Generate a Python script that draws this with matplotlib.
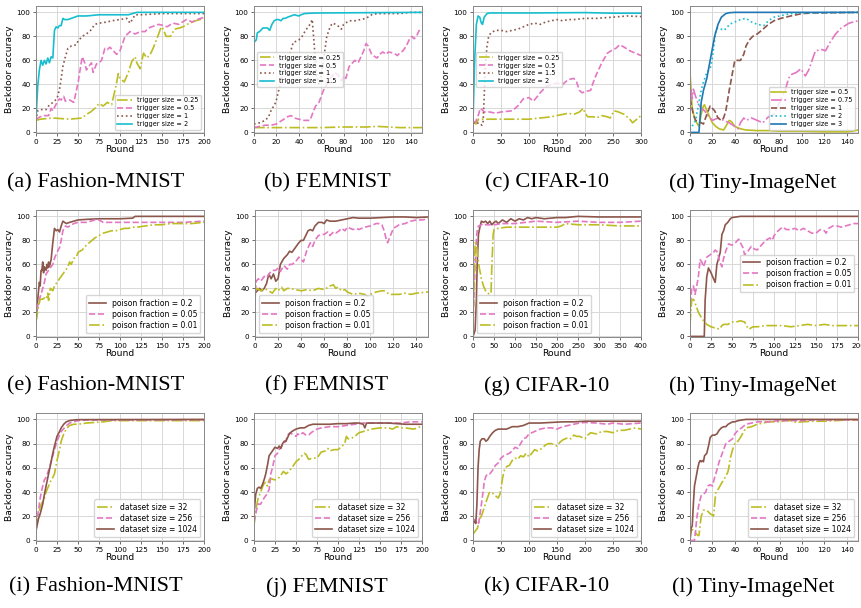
import matplotlib
matplotlib.use("Agg")
import matplotlib.pyplot as plt

W, H = 862, 608

OLIVE, PINK, BROWN, CYAN, BLUE = '#bcbd22', '#e377c2', '#8c564b', '#17becf', '#1f77b4'

# ---------------- row 1: trigger size ----------------
# (a) Fashion-MNIST
a_t025_x = [0,5,20,40,55,60,65,70,75,80,85,90,95,98,100,105,110,114,118,120,124,128,132,136,140,145,148,150,155,160,165,171,175,180,183,190,195,200]
a_t025_y = [10,11,12,11,12,15,17,20,24,22,25,23,38,49,45,42,50,59,63,58,53,66,62,65,71,80,86,88,80,80,86,87,88,90,91,93,94,95]
a_t05_x = [0,5,10,15,18,20,25,28,30,33,35,40,45,50,52,55,58,60,66,68,72,75,78,82,85,88,92,96,100,106,112,118,121,126,130,134,142,146,152,156,163,170,179,186,192,200]
a_t05_y = [11,13,14,14,20,18,25,28,27,30,26,27,25,41,50,63,58,52,58,50,57,58,60,70,69,71,68,65,68,80,84,82,83,84,84,87,89,90,89,88,91,90,94,92,94,96]
a_t1_x = [0,2,5,10,12,15,20,25,28,30,32,35,38,42,48,50,55,60,65,70,75,85,90,100,108,112,118,125,150,200]
a_t1_y = [10,18,19,19,19,22,25,28,36,45,55,63,70,72,73,76,80,82,85,90,91,92,93,94,95,91,98,98,99,99]
a_t2_x = [0,2,4,6,8,10,12,14,16,18,20,22,24,26,28,30,32,34,38,42,46,50,60,75,100,110,115,120,140,160,200]
a_t2_y = [10,38,52,60,56,60,57,62,58,63,62,85,88,87,89,89,95,94,94,95,96,97,97,98,98,98,99,100,100,100,100]

# (b) FEMNIST
b_t025_x = [0,20,40,60,80,90,100,110,120,130,150]
b_t025_y = [4,4,4,4,4.5,4.5,4.5,5,4.5,4,4]
b_t05_x = [0,5,10,15,20,25,30,33,36,40,45,50,52,55,58,60,62,65,68,70,72,75,78,80,82,85,88,90,93,95,98,100,102,105,108,110,112,115,118,120,125,128,130,133,136,139,141,143,145,148]
b_t05_y = [4,5,6,6,7,10,13,14,12,11,10,10,15,22,25,30,35,40,45,47,50,48,43,47,45,55,58,60,58,62,68,74,72,65,63,62,65,67,65,67,66,64,66,68,72,78,80,78,80,86]
b_t1_x = [0,5,10,13,16,18,20,22,24,26,28,30,32,35,38,40,43,46,50,52,54,56,58,60,62,65,68,70,73,76,78,80,85,90,95,100,105,110,120,130,140,150]
b_t1_y = [7,8,10,13,20,22,27,35,41,50,55,60,65,75,76,77,80,85,90,94,70,47,40,47,60,80,88,91,90,88,86,90,93,93,94,95,98,99,99,99,100,100]
b_t15_x = [0,2,3,5,8,12,14,16,18,20,22,24,26,28,30,33,36,40,42,45,50,60,150]
b_t15_y = [75,77,83,84,87,87,85,90,93,94,94,93,95,95,96,97,98,97,98,99,99.3,99.5,100]

# (c) CIFAR-10
c_t025_x = [0,5,10,20,50,80,100,120,140,150,160,170,180,190,197,200,205,215,220,230,240,245,252,260,270,280,285,290,300]
c_t025_y = [10,7,11,11,11,11,11,12,13,14,15,16,15,17,20,16,13,13,12,14,13,12,18,17,15,11,8,10,14]
c_t05_x = [0,5,10,13,16,20,30,40,50,70,80,90,100,108,115,120,130,140,150,160,170,180,185,190,195,200,210,215,220,230,240,250,255,262,270,280,290,300]
c_t05_y = [8,9,15,20,19,17,17,16,17,18,22,28,29,26,30,33,38,40,41,40,44,45,42,35,33,34,35,42,48,58,66,69,70,73,71,68,66,64]
c_t15_x = [0,5,10,13,16,18,20,22,25,28,32,40,50,60,70,80,90,100,110,120,130,140,150,160,170,180,200,220,250,275,300]
c_t15_y = [8,7,8,7,6,8,30,55,72,80,83,85,85,84,85,86,88,90,91,90,92,93,94,93,94,94,95,95,96,97,96.5]
c_t2_x = [0,3,6,9,12,15,17,20,25,30,100,200,250,300]
c_t2_y = [10,60,90,97,96,91,90,96,99,99.5,99.5,99.8,99.3,99.3]

# (d) Tiny-ImageNet
d_t05_x = [0,2,4,6,8,10,12,13,15,18,20,23,26,30,32,35,37,40,45,50,60,70,80,100,120,140,145,150]
d_t05_y = [50,20,12,8,5,15,22,23,18,12,8,5,3,2,5,10,9,5,3,2,1.5,1.5,1,1,0.5,0.5,1,2]
d_t075_x = [0,1,2,3,5,7,10,13,15,18,20,25,30,35,40,43,45,48,50,55,60,65,70,75,80,85,88,90,95,99,103,106,112,118,121,125,130,135,142,146,150]
d_t075_y = [20,35,28,36,30,25,20,18,15,12,10,12,10,8,5,3,8,12,10,12,10,8,13,15,25,35,45,48,50,53,47,52,68,69,68,75,82,87,91,92,93]
d_t1_x = [0,3,5,10,12,15,18,20,22,25,28,30,32,35,38,40,42,45,48,50,53,56,60,64,70,75,81,90,100,110,150]
d_t1_y = [28,15,10,8,7,15,22,20,18,12,10,12,18,35,50,60,60,60,65,72,77,80,82,85,90,93,95,97,99,99.5,100]
d_t2_x = [0,5,8,10,12,15,18,20,23,25,28,30,33,35,40,45,50,55,60,66,70,75,80,85,90,100,150]
d_t2_y = [2,10,25,35,42,50,53,62,85,87,86,85,87,90,92,94,95,92,90,89,93,96,97,98,99,99.5,100]
d_t3_x = [0,8,10,12,15,18,20,22,25,28,32,35,40,150]
d_t3_y = [0,0,25,35,45,60,70,80,90,96,99,99.7,100,100]

# ---------------- row 2: poison fraction ----------------
e_p02_x = [0,2,3,4,5,6,7,8,9,10,12,13,14,15,16,18,20,22,24,26,28,30,32,34,36,40,45,50,60,75,100,115,118,150,200]
e_p02_y = [12,30,38,45,42,55,55,62,53,58,55,60,57,62,58,64,78,90,88,89,87,92,96,95,94,95,96,97,97.5,98,98,98.5,100,100,100]
e_p005_x = [0,3,5,8,10,12,15,18,20,22,25,28,30,32,35,38,40,45,50,60,70,75,80,100,125,150,175,200]
e_p005_y = [15,30,33,40,45,52,55,58,60,65,70,74,80,88,92,91,92,94,95,95,97,97,95,95,95,95,95,96]
e_p001_x = [0,3,5,8,10,12,14,15,17,20,22,25,28,30,33,35,38,40,42,45,48,50,55,60,65,70,75,80,85,90,95,100,105,110,115,120,130,140,150,160,175,185,200]
e_p001_y = [12,25,31,31,32,31,36,30,40,38,42,45,48,50,53,55,58,62,60,65,66,70,72,76,79,82,84,86,87,88,88,89,90,90,91,91,92,93,93,94,94,94,95]

f_p02_x = [0,2,4,6,8,10,12,14,16,18,20,22,25,28,30,32,35,38,40,42,44,46,48,50,52,55,58,60,62,65,70,75,80,85,90,100,110,120,130,140,150]
f_p02_y = [36,38,40,38,40,44,52,48,52,46,48,60,65,68,71,70,74,78,80,80,84,88,89,88,92,95,95,94,97,96,96,97,98,99,98.5,98.5,99,99.5,99.5,99,99.5]
f_p005_x = [0,1,3,5,8,10,13,15,18,20,22,25,28,30,32,35,38,40,42,45,48,50,52,55,58,60,63,65,68,70,73,75,78,80,85,88,90,95,100,105,108,110,112,114,115,117,120,125,130,135,140,145,150]
f_p005_y = [30,46,48,46,50,49,53,55,55,57,54,59,56,60,60,62,66,64,62,72,78,75,80,84,85,85,87,84,87,86,88,90,88,91,89,90,89,91,92,94,94,93,88,80,78,83,90,93,94,96,97,97,98]
f_p001_x = [0,2,5,8,10,12,15,18,20,23,25,28,30,35,40,45,50,55,60,65,68,70,72,75,78,80,85,90,95,98,100,105,110,112,115,118,120,125,130,135,140,150]
f_p001_y = [38,40,38,40,39,38,36,40,38,41,38,40,40,39,38,39,38,40,39,42,43,40,41,38,39,37,35,36,35,33,35,37,38,38,36,35,35,35,36,35,36,37]

g_p02_x = [0,2,5,8,10,13,17,20,25,30,35,40,45,50,55,60,70,80,90,100,110,120,130,140,150,170,200,220,250,300,350,400]
g_p02_y = [0,2,5,30,60,85,92,96,95,96,94,96,93,95,96,94,97,95,98,96,98,97,99,98,99,98,99,99,100,99.5,99.5,99.5]
g_p005_x = [0,3,5,8,10,13,16,20,25,30,40,50,70,100,150,200,250,300,350,400]
g_p005_y = [10,40,60,80,88,92,92,93,94,93,93,93,94,94,96,95,96,95,95,96]
g_p001_x = [0,3,5,8,10,12,15,18,20,25,30,35,40,43,45,48,50,60,80,100,150,200,210,220,250,300,350,400]
g_p001_y = [8,50,78,77,72,65,57,52,48,42,38,36,35,37,60,85,89,90,91,91,91,91,92,94,93,93,92,92]

h_p02_x = [0,17,18,20,22,25,28,30,32,34,36,38,40,42,45,48,50,55,60,100,150,200]
h_p02_y = [0,0,30,50,57,53,48,45,60,65,70,85,88,93,95,98,99,99.5,100,100,100,100]
h_p005_x = [0,2,4,6,8,10,12,14,16,18,20,24,28,30,33,35,38,40,43,46,50,54,58,60,63,65,68,70,73,76,80,85,90,95,98,100,105,110,115,120,125,130,135,140,145,150,155,160,162,165,170,175,180,185,190,195,200]
h_p005_y = [20,40,42,35,42,50,64,62,58,62,66,68,70,72,70,63,58,65,72,77,76,78,81,78,74,68,70,72,75,73,72,76,80,82,80,84,88,91,89,89,90,88,90,88,86,86,89,88,86,90,92,92,91,92,93,94,94]
h_p001_x = [0,2,4,6,10,15,20,25,30,35,38,40,45,50,55,60,65,68,70,75,80,90,100,110,120,130,140,150,160,170,180,190,200]
h_p001_y = [10,30,31,28,20,14,10,8,7,6,9,10,10,12,12,13,12,8,6,8,8,9,9,9,8,9,10,9,10,9,9,9,9]

# ---------------- row 3: dataset size ----------------
i_d32_x = [0,3,5,8,10,12,15,18,20,22,25,28,30,33,36,40,45,50,60,70,80,90,100,200]
i_d32_y = [10,20,28,32,35,40,45,50,52,55,66,75,82,88,92,95,96,96,97,97.5,98,99,99,99]
i_d256_x = [0,3,5,8,10,12,15,18,20,22,25,28,30,35,40,45,50,60,200]
i_d256_y = [12,25,35,45,50,52,58,65,70,75,82,87,90,94,97,98,99,99.5,99.7]
i_d1024_x = [0,3,5,8,10,12,15,18,20,22,25,28,30,33,36,40,45,50,200]
i_d1024_y = [8,18,22,30,38,45,55,65,72,78,86,90,93,96,98,99,99.5,99.8,100]

j_d32_x = [0,2,5,8,10,12,14,16,18,20,25,28,30,33,35,38,40,45,50,55,58,60,62,65,70,75,80,85,88,90,95,100,105,108,110,112,115,120,125,130,135,140,150,160,165,170,175,180,190,195,200]
j_d32_y = [12,25,35,40,44,47,48,45,50,51,50,51,52,55,57,55,56,60,65,68,71,72,71,67,68,68,73,74,76,74,75,75,78,80,86,84,84,86,89,90,91,92,93,93,92,94,93,93,92,93,95]
j_d256_x = [0,3,5,8,10,12,15,18,20,22,25,28,30,33,35,38,40,43,45,48,50,52,55,58,60,62,65,68,70,75,80,90,100,110,120,130,140,150,160,175,185,200]
j_d256_y = [15,25,30,30,33,35,38,42,55,60,70,72,75,78,80,82,87,89,88,87,86,88,87,89,88,87,87,89,90,92,93,94,94,95,96,97,97,97,97,97,98,98]
j_d1024_x = [0,2,4,6,8,10,12,14,16,18,20,22,25,28,30,32,34,36,38,40,42,45,50,55,60,65,70,80,90,100,110,120,125,130,132,134,140,150,160,180,200]
j_d1024_y = [22,38,43,44,43,46,50,55,62,70,72,74,77,76,78,76,80,82,82,85,88,90,92,93,93,95,96,96,96,96.5,96.5,97,97,96,93,97,97,97,97,96,96]

k_d32_x = [0,3,6,8,10,12,15,20,25,28,30,35,40,45,48,50,53,56,60,65,70,75,80,85,90,95,100,105,110,115,120,125,130,135,140,150,155,160,165,170,175,180,185,190,195,200,205,210,220,230,240,250,260,270,280,290,300]
k_d32_y = [5,7,9,10,14,18,20,27,34,38,40,39,37,35,38,43,52,58,61,62,66,68,67,70,69,72,69,72,75,74,75,77,79,80,80,78,81,83,84,85,84,87,86,86,85,84,87,89,88,90,90,89,91,91,92,93,92]
k_d256_x = [0,3,6,8,10,12,15,18,20,23,26,30,35,40,45,50,55,60,65,70,75,80,85,90,95,100,110,120,130,140,150,160,170,180,190,200,220,240,250,270,300]
k_d256_y = [18,17,15,13,14,20,30,40,48,53,55,55,58,62,64,68,70,71,72,74,77,76,80,84,85,88,90,92,93,93,92,94,95,96,97,97.5,97,96,97,96,97]
k_d1024_x = [0,3,5,7,9,11,13,16,20,23,26,30,35,40,45,50,60,70,80,90,100,120,140,160,180,200,250,300]
k_d1024_y = [17,15,14,30,60,75,82,84,84,82,83,86,89,91,92,92,92,94,94,95,97,97,97.5,98,98,98.5,98.5,98.5]

l_d32_x = [0,1,3,5,7,8,9,10,12,14,16,18,20,21,22,23,25,28,30,32,34,35,36,38,40,42,45,48,50,55,60,65,70,75,80,85,90,95,100,110,120,130,140,150]
l_d32_y = [0,10,8,6,4,4,12,20,25,25,24,22,21,20,30,40,42,47,50,53,57,62,68,75,80,81,85,90,93,94,96,97,98,98,98,99,99,97.5,98,98.5,98.5,99,99.5,99.5]
l_d256_x = [0,2,4,5,6,8,10,12,14,16,18,20,22,24,26,28,30,32,35,38,40,43,46,50,55,60,65,70,80,90,100,110,150]
l_d256_y = [0,0,0,8,18,30,37,38,40,45,46,45,52,58,65,70,75,80,82,84,88,91,93,96,97,98,98,98,99,99,99,99.5,99.7]
l_d1024_x = [0,1,2,3,4,5,6,7,8,9,10,11,12,13,15,17,18,20,22,24,26,28,30,32,34,36,38,40,43,46,50,150]
l_d1024_y = [0,10,12,30,45,50,55,60,64,66,65,66,65,70,72,80,85,87,87,88,91,93,94,94,96,97,98,98,99,99.5,100,100]

captions = ['(a) Fashion-MNIST', '(b) FEMNIST', '(c) CIFAR-10', '(d) Tiny-ImageNet',
            '(e) Fashion-MNIST', '(f) FEMNIST', '(g) CIFAR-10', '(h) Tiny-ImageNet',
            '(i) Fashion-MNIST', '(j) FEMNIST', '(k) CIFAR-10', '(l) Tiny-ImageNet']


def px_rect(left, right, top, bottom):
    return [left / W, 1 - bottom / H, (right - left) / W, (bottom - top) / H]


def panel(fig, rect, xmax, xstep, series, loc, leg_fs):
    ax = fig.add_axes(rect)
    for x, y, label, color, ls in series:
        ax.plot(x, y, color=color, linestyle=ls, linewidth=1.2, label=label)
    ax.set_xlim(0, xmax)
    ax.set_ylim(-0.5, 105.3)
    ax.set_xticks(list(range(0, xmax + 1, xstep)))
    ax.set_yticks([0, 20, 40, 60, 80, 100])
    ax.grid(True, color='#d8d8d8', linewidth=0.7)
    ax.set_axisbelow(True)
    ax.tick_params(labelsize=5.2, length=2.5, width=0.6, pad=1.5, color='#555555')
    for s in ax.spines.values():
        s.set_color('#888888')
        s.set_linewidth(0.7)
    ax.set_xlabel('Round', fontsize=6.6, labelpad=0.5)
    ax.set_ylabel('Backdoor accuracy', fontsize=6.6, labelpad=1.5)
    ax.legend(loc=loc, fontsize=leg_fs, handlelength=2.2, borderpad=0.4,
              labelspacing=0.3, handletextpad=0.8)
    return ax


fig = plt.figure(figsize=(W / 100, H / 100), dpi=100)

rows = [(6, 133), (210, 337), (413, 541)]
cols = {
    (0, 0): (36, 204), (0, 1): (254, 422), (0, 2): (473, 641), (0, 3): (690, 858),
    (1, 0): (36, 204), (1, 1): (255, 428), (1, 2): (473, 641), (1, 3): (690, 858),
    (2, 0): (36, 204), (2, 1): (254, 422), (2, 2): (473, 641), (2, 3): (690, 858),
}

panels = [
    (200, 25, [(a_t025_x, a_t025_y, 'trigger size = 0.25', OLIVE, '-.'),
               (a_t05_x, a_t05_y, 'trigger size = 0.5', PINK, '--'),
               (a_t1_x, a_t1_y, 'trigger size = 1', BROWN, ':'),
               (a_t2_x, a_t2_y, 'trigger size = 2', CYAN, '-')], 'lower right'),
    (150, 20, [(b_t025_x, b_t025_y, 'trigger size = 0.25', OLIVE, '-.'),
               (b_t05_x, b_t05_y, 'trigger size = 0.5', PINK, '--'),
               (b_t1_x, b_t1_y, 'trigger size = 1', BROWN, ':'),
               (b_t15_x, b_t15_y, 'trigger size = 1.5', CYAN, '-')], 'center left'),
    (300, 50, [(c_t025_x, c_t025_y, 'trigger size = 0.25', OLIVE, '-.'),
               (c_t05_x, c_t05_y, 'trigger size = 0.5', PINK, '--'),
               (c_t15_x, c_t15_y, 'trigger size = 1.5', BROWN, ':'),
               (c_t2_x, c_t2_y, 'trigger size = 2', CYAN, '-')], 'center left'),
    (150, 20, [(d_t05_x, d_t05_y, 'trigger size = 0.5', OLIVE, '-'),
               (d_t075_x, d_t075_y, 'trigger size = 0.75', PINK, '-.'),
               (d_t1_x, d_t1_y, 'trigger size = 1', BROWN, '--'),
               (d_t2_x, d_t2_y, 'trigger size = 2', CYAN, ':'),
               (d_t3_x, d_t3_y, 'trigger size = 3', BLUE, '-')], 'lower right'),
    (200, 25, [(e_p02_x, e_p02_y, 'poison fraction = 0.2', BROWN, '-'),
               (e_p005_x, e_p005_y, 'poison fraction = 0.05', PINK, '--'),
               (e_p001_x, e_p001_y, 'poison fraction = 0.01', OLIVE, '-.')], 'lower right'),
    (150, 20, [(f_p02_x, f_p02_y, 'poison fraction = 0.2', BROWN, '-'),
               (f_p005_x, f_p005_y, 'poison fraction = 0.05', PINK, '--'),
               (f_p001_x, f_p001_y, 'poison fraction = 0.01', OLIVE, '-.')], 'lower left'),
    (400, 50, [(g_p02_x, g_p02_y, 'poison fraction = 0.2', BROWN, '-'),
               (g_p005_x, g_p005_y, 'poison fraction = 0.05', PINK, '--'),
               (g_p001_x, g_p001_y, 'poison fraction = 0.01', OLIVE, '-.')], 'lower left'),
    (200, 25, [(h_p02_x, h_p02_y, 'poison fraction = 0.2', BROWN, '-'),
               (h_p005_x, h_p005_y, 'poison fraction = 0.05', PINK, '--'),
               (h_p001_x, h_p001_y, 'poison fraction = 0.01', OLIVE, '-.')], 'center right'),
    (200, 25, [(i_d32_x, i_d32_y, 'dataset size = 32', OLIVE, '-.'),
               (i_d256_x, i_d256_y, 'dataset size = 256', PINK, '--'),
               (i_d1024_x, i_d1024_y, 'dataset size = 1024', BROWN, '-')], 'lower right'),
    (200, 25, [(j_d32_x, j_d32_y, 'dataset size = 32', OLIVE, '-.'),
               (j_d256_x, j_d256_y, 'dataset size = 256', PINK, '--'),
               (j_d1024_x, j_d1024_y, 'dataset size = 1024', BROWN, '-')], 'lower right'),
    (300, 50, [(k_d32_x, k_d32_y, 'dataset size = 32', OLIVE, '-.'),
               (k_d256_x, k_d256_y, 'dataset size = 256', PINK, '--'),
               (k_d1024_x, k_d1024_y, 'dataset size = 1024', BROWN, '-')], 'lower right'),
    (150, 20, [(l_d32_x, l_d32_y, 'dataset size = 32', OLIVE, '-.'),
               (l_d256_x, l_d256_y, 'dataset size = 256', PINK, '--'),
               (l_d1024_x, l_d1024_y, 'dataset size = 1024', BROWN, '-')], 'lower right'),
]

cap_x = [96, 327, 547, 753]
cap_y = [183, 386, 587]

for k, (xmax, xstep, series, loc) in enumerate(panels):
    r, c = divmod(k, 4)
    left, right = cols[(r, c)]
    top, bottom = rows[r]
    panel(fig, px_rect(left, right, top, bottom), xmax, xstep, series, loc,
          4.7 if r == 0 else 5.5)
    fig.text(cap_x[c] / W, 1 - cap_y[r] / H, captions[k], ha='center', va='center',
             fontsize=16, family='Liberation Serif')

plt.savefig('out.png', dpi=100)
